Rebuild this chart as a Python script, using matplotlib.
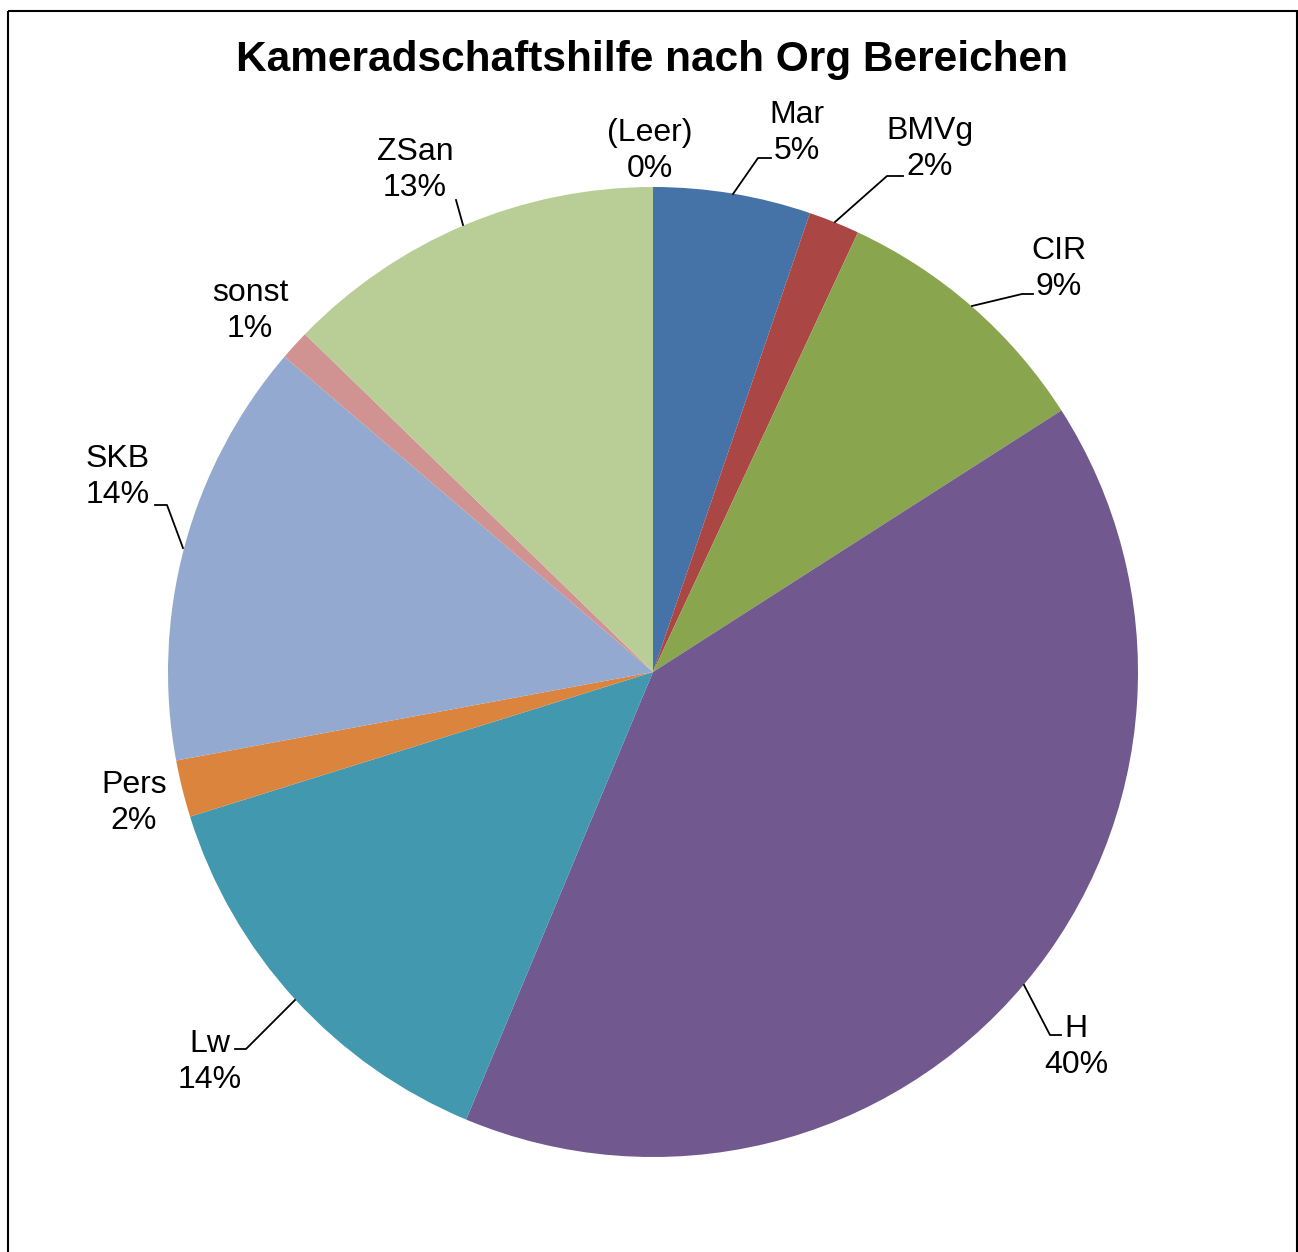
import matplotlib.pyplot as plt
from matplotlib.patches import Rectangle

plt.rcParams['font.family'] = ['Liberation Sans', 'DejaVu Sans']

# data (percent shares)
categories = ['Mar', 'BMVg', 'CIR', 'H', 'Lw', 'Pers', 'SKB', 'sonst', 'ZSan', '(Leer)']
shares = [5.25, 1.7, 9.0, 40.4, 13.9, 1.9, 14.2, 1.0, 12.75, 0.0]
pct_labels = ['5%', '2%', '9%', '40%', '14%', '2%', '14%', '1%', '13%', '0%']

colors = ['#4572A7', '#AA4643', '#89A54E', '#71588F', '#4198AF',
          '#DB843D', '#93A9CF', '#D19392', '#B9CD96', '#A99BBD']

# label placement (pixel coords, y down) and leader lines
label_pos = {
    'Mar': (797, 133), 'BMVg': (930, 149), 'CIR': (1059, 269),
    'H': (1076, 1047), 'Lw': (210, 1062), 'Pers': (134, 803),
    'SKB': (118, 477), 'sonst': (250, 311), 'ZSan': (415, 170),
    '(Leer)': (650, 151),
}
leaders = {
    'Mar': [(733, 194), (758, 158), (771, 158)],
    'BMVg': [(835, 222), (887, 176), (903, 176)],
    'CIR': [(972, 306), (1022, 294), (1033, 294)],
    'H': [(1024, 985), (1050, 1035), (1061, 1035)],
    'Lw': [(295, 1000), (246, 1049), (235, 1049)],
    'SKB': [(183, 548), (167, 505), (155, 505)],
    'ZSan': [(463, 225), (456, 200)],
}

W, H = 1298, 1252
fig = plt.figure(figsize=(W / 100, H / 100), dpi=100)
ax = fig.add_axes([0, 0, 1, 1])

ax.pie(shares, colors=colors, startangle=-90, counterclock=True,
       center=(653, 672), radius=485,
       wedgeprops=dict(linewidth=0))

ax.set_xlim(0, W)
ax.set_ylim(H, 0)
ax.set_aspect('equal')
ax.axis('off')

for name, pct in zip(categories, pct_labels):
    x, y = label_pos[name]
    ax.text(x, y, name + '\n' + pct, ha='center', va='center',
            fontsize=23, linespacing=1.25, color='black')

for name, pts in leaders.items():
    xs = [p[0] for p in pts]
    ys = [p[1] for p in pts]
    ax.plot(xs, ys, color='black', lw=1.3)

ax.text(652, 60, 'Kameradschaftshilfe nach Org Bereichen', ha='center', va='center',
        fontsize=30.5, fontweight='bold')

ax.add_patch(Rectangle((8, 11), 1289, 1260, fill=False, edgecolor='black',
                       lw=1.5, clip_on=False))

fig.savefig('out.png', dpi=100)
